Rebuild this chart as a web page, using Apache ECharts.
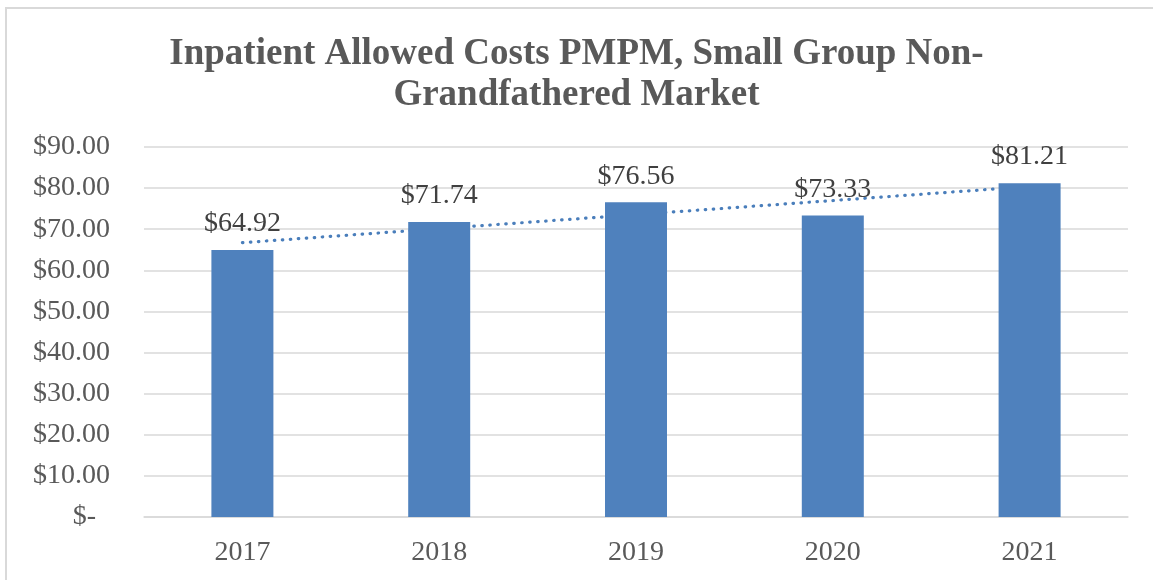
<!DOCTYPE html>
<html>
<head>
<meta charset="utf-8">
<script src="https://cdn.jsdelivr.net/npm/echarts@6/dist/echarts.min.js"></script>
<style>
  html, body { margin: 0; padding: 0; background: #fff; }
  #frame { position: absolute; left: 5px; top: 7px; width: 1200px; height: 620px;
           border-left: 2px solid #d9d9d9; border-top: 2px solid #d9d9d9; }
  #chart { position: absolute; left: 0; top: 0; width: 1153px; height: 580px; }
</style>
</head>
<body>
<div id="frame"></div>
<div id="chart"></div>
<script>
// Inpatient allowed cost per member per month, by year
const years = ['2017', '2018', '2019', '2020', '2021'];
const costs = [64.92, 71.74, 76.56, 73.33, 81.21];
// Linear trend line end points (first and last year)
const trend = [66.72, null, null, null, 80.39];
const yTicks = { min: 0, max: 90, step: 10 };

const serif = '"Liberation Serif", "Times New Roman", serif';
const chart = echarts.init(document.getElementById('chart'), null, { renderer: 'canvas' });

chart.setOption({
  backgroundColor: 'transparent',
  animation: false,
  title: {
    text: 'Inpatient Allowed Costs PMPM, Small Group Non-\nGrandfathered Market',
    left: 'center',
    top: 29,
    textStyle: {
      fontFamily: serif,
      fontWeight: 'bold',
      fontSize: 37,
      lineHeight: 41,
      color: '#595959'
    }
  },
  grid: { left: 144, right: 25, top: 147, bottom: 63, containLabel: false },
  xAxis: {
    type: 'category',
    data: years,
    axisLine: { lineStyle: { color: '#d9d9d9', width: 1.5 } },
    axisTick: { show: false },
    axisLabel: { fontFamily: serif, fontSize: 28, color: '#595959', margin: 22 }
  },
  yAxis: {
    type: 'value',
    min: yTicks.min,
    max: yTicks.max,
    interval: yTicks.step,
    axisLine: { show: false },
    axisTick: { show: false },
    splitLine: { lineStyle: { color: '#d9d9d9', width: 1.5 } },
    axisLabel: {
      fontFamily: serif, fontSize: 28, color: '#595959', margin: 34,
      formatter: v => v === 0 ? '$-  ' : '$' + v.toFixed(2)
    }
  },
  series: [
    {
      type: 'line',
      data: trend,
      connectNulls: true,
      symbol: 'none',
      z: 1,
      lineStyle: { color: '#4a7ebb', width: 3.2, type: [0.5, 7.5], cap: 'round' }
    },
    {
      type: 'bar',
      data: costs,
      barWidth: 62,
      z: 2,
      itemStyle: { color: '#4f81bd' },
      label: {
        show: true,
        position: 'top',
        distance: 12,
        fontFamily: serif,
        fontSize: 28,
        color: '#404040',
        formatter: p => '$' + p.value.toFixed(2)
      }
    }
  ]
});
</script>
</body>
</html>
